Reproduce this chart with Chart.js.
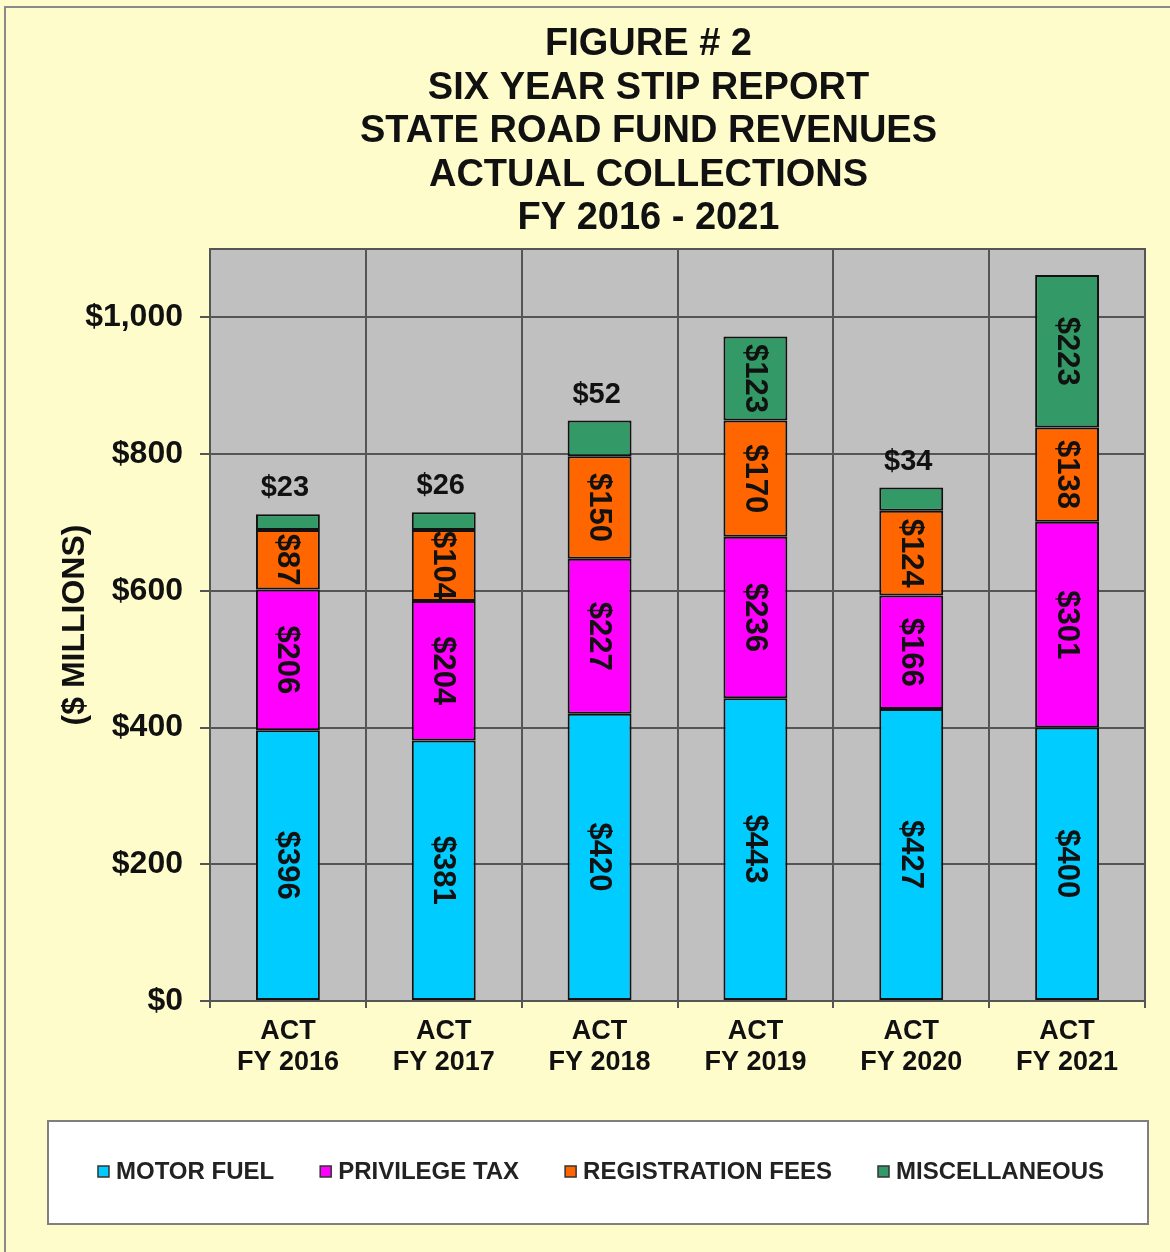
<!DOCTYPE html>
<html><head><meta charset="utf-8">
<script src="https://cdn.jsdelivr.net/npm/chart.js@4/dist/chart.umd.min.js"></script>
<style>html,body{margin:0;padding:0;background:#FFFCCC;} canvas{display:block;}</style>
</head><body>
<canvas id="c" width="1170" height="1252"></canvas>
<script>
const categories = [["ACT","FY 2016"],["ACT","FY 2017"],["ACT","FY 2018"],["ACT","FY 2019"],["ACT","FY 2020"],["ACT","FY 2021"]];
const motorFuel = [396,381,420,443,427,400];
const privilegeTax = [206,204,227,236,166,301];
const registrationFees = [87,104,150,170,124,138];
const miscellaneous = [23,26,52,123,34,223];
const seriesNames = ["MOTOR FUEL","PRIVILEGE TAX","REGISTRATION FEES","MISCELLANEOUS"];
const seriesColors = ["#00CCFF","#FF00FF","#FF6600","#339966"];
const yTicks = [0,200,400,600,800,1000];
const yMax = 1100;
const titleLines = ["FIGURE # 2","SIX YEAR STIP REPORT","STATE ROAD FUND REVENUES","ACTUAL COLLECTIONS","FY 2016 - 2021"];
const yAxisTitle = "($ MILLIONS)";

const FONT = '"Liberation Sans", Arial, Helvetica, sans-serif';
Chart.defaults.font.family = FONT;
Chart.defaults.color = '#111';

const seriesValues = [motorFuel, privilegeTax, registrationFees, miscellaneous];

const backgroundPlugin = {
  id: 'bg',
  beforeDraw(chart) {
    const ctx = chart.ctx, a = chart.chartArea;
    ctx.save();
    ctx.fillStyle = '#FFFCCC';
    ctx.fillRect(0, 0, chart.width, chart.height);
    ctx.strokeStyle = '#8a8a8a';
    ctx.lineWidth = 2;
    ctx.strokeRect(5, 7, chart.width + 50, chart.height + 50);
    ctx.fillStyle = '#C0C0C0';
    ctx.fillRect(a.left, a.top, a.right - a.left, a.bottom - a.top);
    ctx.restore();
  },
  beforeDatasetsDraw(chart) {
    const ctx = chart.ctx, a = chart.chartArea;
    ctx.save();
    ctx.strokeStyle = '#555';
    ctx.lineWidth = 2;
    ctx.strokeRect(a.left, a.top, a.right - a.left, a.bottom - a.top);
    ctx.restore();
  }
};

const titlePlugin = {
  id: 'customTitle',
  afterDraw(chart) {
    const ctx = chart.ctx, a = chart.chartArea;
    const cx = (a.left + a.right) / 2 - 29;
    ctx.save();
    ctx.fillStyle = '#111';
    ctx.font = 'bold 38px ' + FONT;
    ctx.textAlign = 'center';
    ctx.textBaseline = 'middle';
    titleLines.forEach((t, i) => ctx.fillText(t, cx, 45 + i * 43.5));
    ctx.restore();
  }
};

const labelPlugin = {
  id: 'segLabels',
  afterDatasetsDraw(chart) {
    const ctx = chart.ctx;
    const last = chart.data.datasets.length - 1;
    ctx.save();
    ctx.fillStyle = '#111';
    chart.data.datasets.forEach((ds, i) => {
      const meta = chart.getDatasetMeta(i);
      meta.data.forEach((bar, j) => {
        const v = ds.data[j];
        const text = '$' + v;
        const p = bar.getProps(['x', 'y', 'base'], true);
        const h = Math.abs(p.base - p.y);
        ctx.font = 'bold 31px ' + FONT;
        const w = ctx.measureText(text).width;
        if (i === last && w > h) {
          ctx.font = 'bold 29px ' + FONT;
          ctx.textAlign = 'center';
          ctx.textBaseline = 'middle';
          ctx.fillText(text, p.x - 3, Math.min(p.y, p.base) - 26);
        } else {
          ctx.save();
          ctx.translate(p.x, (p.y + p.base) / 2);
          ctx.rotate(Math.PI / 2);
          ctx.textAlign = 'center';
          ctx.textBaseline = 'middle';
          ctx.fillText(text, 0, 1);
          ctx.restore();
        }
      });
    });
    ctx.restore();
  }
};

const legendPlugin = {
  id: 'customLegend',
  afterDraw(chart) {
    const ctx = chart.ctx;
    const bx = 48, by = 1121, bw = 1100, bh = 103;
    ctx.save();
    ctx.fillStyle = '#FFFFFF';
    ctx.fillRect(bx, by, bw, bh);
    ctx.strokeStyle = '#7f7f7f';
    ctx.lineWidth = 2;
    ctx.strokeRect(bx, by, bw, bh);
    ctx.font = 'bold 24px ' + FONT;
    const box = 11, gap = 7, spacing = 46;
    const items = chart.data.datasets.map(d => ({label: d.label, color: d.backgroundColor, w: ctx.measureText(d.label).width}));
    const total = items.reduce((s, it) => s + box + gap + it.w, 0) + spacing * (items.length - 1);
    let x = bx + bw / 2 + 3 - total / 2;
    const cy = by + bh / 2 - 1;
    ctx.textBaseline = 'middle';
    ctx.textAlign = 'left';
    items.forEach(it => {
      ctx.fillStyle = it.color;
      ctx.fillRect(x, cy - box / 2, box, box);
      ctx.strokeStyle = '#333';
      ctx.lineWidth = 1.5;
      ctx.strokeRect(x, cy - box / 2, box, box);
      ctx.fillStyle = '#222';
      ctx.fillText(it.label, x + box + gap, cy + 1);
      x += box + gap + it.w + spacing;
    });
    ctx.restore();
  }
};

new Chart(document.getElementById('c'), {
  type: 'bar',
  data: {
    labels: categories,
    datasets: seriesValues.map((vals, i) => ({
      label: seriesNames[i],
      data: vals,
      backgroundColor: seriesColors[i],
      borderColor: '#111',
      borderWidth: 2,
      borderSkipped: false,
      barPercentage: 0.41,
      categoryPercentage: 1.0
    }))
  },
  options: {
    responsive: false,
    animation: false,
    layout: { padding: { top: 249, right: 25, bottom: 131, left: 0 } },
    plugins: {
      legend: { display: false },
      title: { display: false },
      tooltip: { enabled: false }
    },
    scales: {
      x: {
        stacked: true,
        grid: { color: '#555', lineWidth: 2, offset: true, tickLength: 7, drawTicks: true },
        border: { color: '#444', width: 2 },
        ticks: { font: { size: 27, weight: 'bold', lineHeight: 1.15 }, padding: 8, color: '#111', maxRotation: 0 },
        afterFit(s) { s.height = 120; }
      },
      y: {
        stacked: true,
        min: 0,
        max: yMax,
        afterBuildTicks(s) { s.ticks = yTicks.map(v => ({ value: v })); },
        grid: { color: '#555', lineWidth: 2, tickLength: 10 },
        border: { color: '#444', width: 2 },
        ticks: {
          font: { size: 32, weight: 'bold' },
          padding: 17,
          color: '#111',
          callback: v => '$' + Number(v).toLocaleString('en-US')
        },
        title: {
          display: true,
          text: yAxisTitle,
          font: { size: 32, weight: 'bold', lineHeight: 1.2 },
          color: '#111',
          padding: { top: 56, bottom: 0 }
        },
        afterFit(s) { s.width = 210; }
      }
    }
  },
  plugins: [backgroundPlugin, titlePlugin, labelPlugin, legendPlugin]
});
</script>
</body></html>
